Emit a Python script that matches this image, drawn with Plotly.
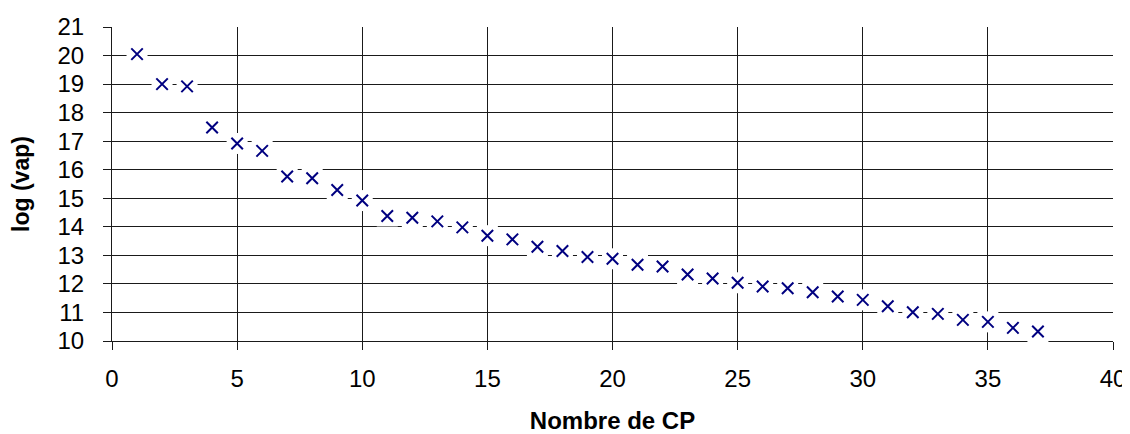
import plotly.graph_objects as go

# Data
cp = list(range(1, 38))
log_vap = [20.05, 19.00, 18.92, 17.48, 16.92, 16.66, 15.76, 15.70, 15.29, 14.92,
           14.38, 14.32, 14.19, 13.98, 13.69, 13.56, 13.30, 13.15, 12.94, 12.88,
           12.67, 12.61, 12.33, 12.19, 12.04, 11.91, 11.85, 11.71, 11.56, 11.44,
           11.22, 11.01, 10.95, 10.74, 10.67, 10.46, 10.33]

x_ticks = [0, 5, 10, 15, 20, 25, 30, 35, 40]
y_ticks = list(range(10, 22))

FONT = "Arial, Liberation Sans, sans-serif"
NAVY = "#000080"
GRID = "#1a1a1a"

fig = go.Figure()
# white backing behind markers (knocks out grid lines like the original)
fig.add_trace(go.Scatter(
    x=cp, y=log_vap, mode="markers", hoverinfo="skip", showlegend=False,
    marker=dict(symbol="square", size=21, color="white", line=dict(width=0)),
    cliponaxis=False))
fig.add_trace(go.Scatter(
    x=cp, y=log_vap, mode="markers", name="log (vap)", showlegend=False,
    marker=dict(symbol="x-thin", size=11.5, color=NAVY,
                line=dict(width=2, color=NAVY)),
    cliponaxis=False))

# page body has an 8px default margin, so the figure is sized/offset for it
fig.update_layout(
    width=1122, height=426,
    margin=dict(l=104, r=17, t=19, b=93, pad=0),
    paper_bgcolor="white", plot_bgcolor="white",
    font=dict(family=FONT, color="black", size=24),
    showlegend=False,
)
fig.update_xaxes(
    range=[0, 40], tickvals=x_ticks, ticktext=[str(v) for v in x_ticks],
    showgrid=True, gridcolor=GRID, gridwidth=1,
    showline=True, linecolor=GRID, linewidth=1, mirror=False,
    ticks="outside", ticklen=8, tickcolor=GRID, tickwidth=1,
    tickfont=dict(size=24, family=FONT), ticklabelstandoff=8,
    zeroline=False, layer="below traces", automargin=False,
    title=dict(text="<b>Nombre de CP</b>", font=dict(size=24, family=FONT), standoff=25),
)
fig.update_yaxes(
    range=[10, 21], tickvals=y_ticks, ticktext=[str(v) for v in y_ticks],
    showgrid=True, gridcolor=GRID, gridwidth=1,
    showline=True, linecolor=GRID, linewidth=1, mirror=False,
    ticks="outside", ticklen=8, tickcolor=GRID, tickwidth=1,
    tickfont=dict(size=24, family=FONT), ticklabelstandoff=14,
    zeroline=False, layer="below traces", automargin=False,
    title=dict(text="<b>log (vap)</b>", font=dict(size=23, family=FONT), standoff=21),
)

fig.write_html("out.html")
